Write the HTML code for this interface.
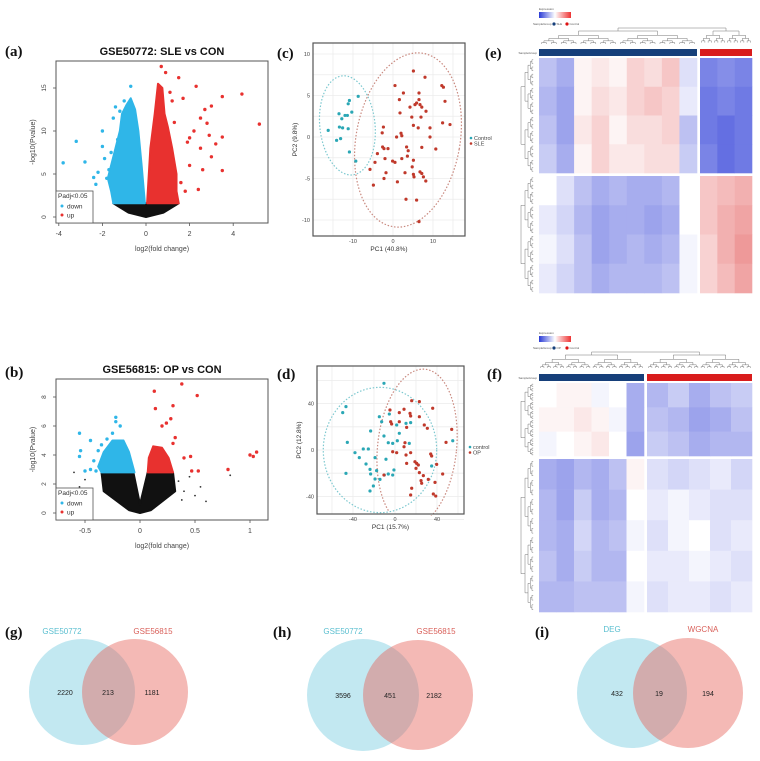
<!DOCTYPE html>
<html><head><meta charset="utf-8">
<style>
html,body{margin:0;padding:0;background:#fff;}
svg{display:block;font-family:"Liberation Sans",sans-serif;}
.pl{font-family:"Liberation Serif",serif;font-weight:bold;font-size:15px;fill:#111;}
.tk{font-size:6.5px;fill:#444;}
</style></head>
<body>
<svg id="fig" width="760" height="761" viewBox="0 0 760 761" xmlns="http://www.w3.org/2000/svg">
<rect x="0" y="0" width="760" height="761" fill="#fff"/>
<text class="pl" x="5" y="56">(a)</text>
<text class="pl" x="5" y="377">(b)</text>
<text class="pl" x="277" y="58">(c)</text>
<text class="pl" x="277" y="379">(d)</text>
<text class="pl" x="485" y="58">(e)</text>
<text class="pl" x="487" y="379">(f)</text>
<text class="pl" x="5" y="637">(g)</text>
<text class="pl" x="273" y="637">(h)</text>
<text class="pl" x="535" y="637">(i)</text>
<g id="root"></g>
</svg>
<script>
// ---------- data: volcano (a) ----------
const aXTicks = [-4, -2, 0, 2, 4];
const aYTicks = [0, 5, 10, 15];
const aBlueCloudX = [-0.05, -0.2, -0.35, -0.5, -0.7, -0.9, -1.1, -1.2, -1.4, -1.6, -1.75, -1.6, -1.5];
const aBlueCloudY = [1.6, 6, 10, 12.5, 13.8, 13, 12, 10, 8, 6, 4.5, 3.0, 1.6];
const aRedCloudX = [0.05, 0.2, 0.4, 0.55, 0.75, 0.85, 1.0, 1.2, 1.4, 1.4, 1.5];
const aRedCloudY = [1.6, 8, 12, 15.5, 15, 12, 10.5, 8, 5, 3, 1.6];
const aBlackX = [-1.5, 1.5, 0.8, 0, -0.8];
const aBlackY = [1.6, 1.6, 0.5, 0, 0.5];
const aDownX = [-3.8, -3.2, -2.8, -2.4, -2.3, -2, -2, -1.9, -1.7, -1.5, -1.6, -1.3, -1.2, -0.7, -1.8, -2.2, -1.0, -1.4];
const aDownY = [6.3, 8.8, 6.4, 4.6, 3.8, 10, 8.2, 6.8, 5.5, 11.5, 7.5, 9, 12.3, 15.2, 4.5, 5.2, 13.5, 12.8];
const aUpX = [0.7, 0.9, 1.5, 2.3, 4.4, 3.5, 5.2, 3.0, 2.7, 2.5, 3.5, 3.5, 2.8, 2.2, 1.9, 2.5, 3.2, 2.0, 2.6, 1.6, 1.8, 2.4, 3.0, 1.2, 1.7, 2.0, 2.9, 1.1, 1.3];
const aUpY = [17.5, 16.8, 16.2, 15.2, 14.3, 14, 10.8, 12.9, 12.5, 11.5, 9.3, 5.4, 10.9, 10, 8.7, 8, 8.5, 6, 5.5, 4, 3, 3.2, 7, 13.5, 13.8, 9.2, 9.5, 14.5, 11];
// ---------- data: volcano (b) ----------
const bXTicks = [-0.5, 0, 0.5, 1.0];
const bYTicks = [0, 2, 4, 6, 8];
const bBlueCloudX = [-0.05, -0.1, -0.15, -0.25, -0.33, -0.38, -0.35];
const bBlueCloudY = [2.8, 4.2, 5.0, 5.0, 4.2, 3.2, 2.8];
const bRedCloudX = [0.07, 0.08, 0.12, 0.2, 0.26, 0.3];
const bRedCloudY = [2.8, 3.8, 4.6, 4.5, 3.8, 2.8];
const bBlackX = [-0.35, -0.06, 0, 0.07, 0.3, 0.32, 0.1, 0, -0.1, -0.33];
const bBlackY = [2.8, 2.8, 0.6, 2.8, 2.8, 1.5, 0.2, 0, 0.2, 1.5];
const bNsX = [-0.6, -0.55, -0.5, 0.4, 0.5, 0.45, 0.55, 0.6, 0.82, 0.35, -0.45, 0.38];
const bNsY = [2.8, 1.8, 2.3, 1.5, 1.2, 2.5, 1.8, 0.8, 2.6, 2.2, 1.5, 0.9];
const bDownX = [-0.55, -0.54, -0.55, -0.5, -0.45, -0.4, -0.45, -0.35, -0.3, -0.25, -0.22, -0.22, -0.18, -0.3, -0.38, -0.42];
const bDownY = [5.5, 4.3, 3.9, 2.9, 3.0, 2.9, 5.0, 4.7, 5.1, 5.5, 6.3, 6.6, 6.0, 4.0, 4.3, 3.6];
const bUpX = [0.38, 0.13, 0.14, 0.3, 0.52, 0.28, 0.32, 0.3, 0.4, 0.46, 0.47, 0.53, 0.8, 1.0, 1.03, 1.06, 0.24, 0.2];
const bUpY = [8.9, 8.4, 7.2, 7.4, 8.1, 6.5, 5.2, 4.8, 3.8, 3.9, 2.9, 2.9, 3.0, 4.0, 3.9, 4.2, 6.2, 6.0];
// ---------- data: PCA (c) ----------
const cXTicks = [-10, 0, 10];
const cYTicks = [-10, -5, 0, 5, 10];
const cCtrlX = [-10.9, -11.2, -10.3, -11.4, -12.0, -12.8, -13.5, -13.4, -12.6, -11.2, -16.2, -14.1, -13.1, -10.9, -8.7, -9.3];
const cCtrlY = [4.4, 4.0, 3.0, 2.6, 2.6, 2.2, 2.8, 1.2, 1.1, 1.0, 0.8, -0.4, -0.2, -1.8, 4.9, -2.9];
const cSleX = [5.1, 8.0, 0.5, 2.6, 12.6, 6.5, 1.6, 6.5, 13.0, 5.5, 5.9, 6.75, 7.2, 1.75, 8.25, 4.7, 5.1, 7.0, 12.4, 14.25, -2.4, 9.25, 6.3, 0.9, 2.0, 2.2, -2.7, -2.6, -2.25, -3.9, -2.0, -1.25, 3.4, 3.8, 7.2, -0.1, 2.2, 3.6, 0.5, 5.1, 4.8, 5.1, 5.25, 6.75, 7.2, 7.6, 3.0, -1.75, -2.25, 1.1, -4.9, -5.75, -4.5, 8.2, 3.25, 5.9, 6.5, 12.2, 10.7, 9.25, 4.25];
const cSleY = [7.95, 7.2, 6.2, 5.3, 6.0, 5.3, 4.5, 4.5, 4.3, 3.9, 4.1, 3.9, 3.6, 2.9, 3.1, 2.4, 1.4, 2.4, 1.7, 1.5, 1.2, 1.1, 1.1, 0.0, 0.45, 0.15, 0.5, -1.2, -1.4, -2.0, -2.6, -1.4, -1.2, -1.65, -1.25, -2.9, -2.6, -2.3, -3.05, -2.8, -3.6, -4.5, -4.8, -4.2, -4.4, -4.8, -4.3, -4.3, -5.0, -5.4, -5.8, -3.9, -3.05, -5.3, -7.5, -7.6, -10.2, 6.2, -1.45, 0.0, 3.6];
const cCtrlEllipse = [-11.4, 1.4, 6.9, 6.0, -6];
const cSleEllipse = [3.75, -0.36, 13.0, 10.6, 10];
// ---------- data: PCA (d) ----------
const dXTicks = [-40, 0, 40];
const dYTicks = [-40, 0, 40];
const dCtrlX = [-10.5, -46.7, -49.8, -14.9, -5.4, -12.7, 1.6, 14.9, 4.1, -23.2, -10.5, -45.4, -6.4, -2.2, -38.1, -30.2, -25.4, -34, -27.6, -19, -23.8, -17.5, -14.3, -19, -23.2, -10.2, -6.4, -1, -2.2, -23.8, -20.6, -46.7, -8.6, 2.2, 13.6, 34.9, 55, 10.5];
const dCtrlY = [57.5, 37.4, 32.2, 28.7, 31, 24.4, 21.6, 23.6, 14.4, 16.4, 12.1, 6.6, 6.3, 5.7, -2.3, 0.9, 0.9, -6.6, -12.1, -6.6, -16.7, -17.8, -25.3, -25, -20.7, -21.6, -20.7, -17.2, -21.6, -35.3, -31, -20.1, -8, 8, 5.7, -13.8, 8, 23];
const dOpX = [15.9, 23.2, -4.8, 8.6, 14.3, 14.9, 4.1, 23.2, 35.9, -4.1, -3.2, 4.1, 27.9, 30.8, 11.1, 54, 48.6, 9.5, 1.6, 8.6, 10.5, 14.9, 34, 34.9, 19, 20.6, 22.2, 20, 39.7, 45.4, 23.2, 27, 24.8, 25.4, 31.7, 38.1, 15.9, 14.9, 36.5, 38.8, -10.5, -2.2, 11.1];
const dOpY = [42.5, 41.7, 34.5, 35.1, 31.6, 29.3, 32.2, 28.7, 36, 24.4, 22.4, 24.4, 21.6, 18.7, 19.5, 17.8, 6.6, 6.3, -2.3, 2.8, -4.3, -2.3, -3.4, -5.2, -10.1, -11.5, -12.9, -15.8, -12.4, -20.7, -19.5, -22.1, -26.4, -28.7, -25.3, -27.9, -33, -38.8, -37.9, -39.7, -21.6, -1.5, -11.5];
const dCtrlEllipse = [-14.3, 0, 54, 54, 0];
const dOpEllipse = [21, 2, 37.6, 68, 6];
// ---------- data: heatmaps ----------
const eValues = [
 [-0.6,-0.8,0.1,0.2,0.1,0.4,0.3,0.5,-0.3,-1.2,-1.1,-1.2],
 [-0.7,-0.9,0.1,0.3,0.2,0.4,0.5,0.4,-0.2,-1.3,-1.2,-1.3],
 [-0.6,-0.9,0.2,0.4,0.1,0.3,0.3,0.4,-0.6,-1.3,-1.4,-1.3],
 [-0.5,-0.8,0.1,0.4,0.2,0.2,0.3,0.3,-0.5,-1.2,-1.4,-1.3],
 [0.0,-0.3,-0.6,-0.8,-0.7,-0.8,-0.8,-0.7,0.0,0.5,0.6,0.7],
 [-0.2,-0.4,-0.7,-0.9,-0.8,-0.8,-0.9,-0.8,0.0,0.5,0.7,0.8],
 [-0.1,-0.3,-0.6,-0.9,-0.8,-0.7,-0.8,-0.7,-0.1,0.4,0.7,0.9],
 [-0.2,-0.4,-0.6,-0.8,-0.7,-0.7,-0.7,-0.6,-0.1,0.4,0.6,0.8]];
const fValues = [
 [0.0,0.1,0.1,-0.1,0.0,-0.8,-0.7,-0.5,-0.8,-0.6,-0.5],
 [0.1,0.1,0.2,0.1,-0.1,-0.8,-0.6,-0.7,-0.9,-0.8,-0.6],
 [-0.1,0.0,0.1,0.2,0.0,-0.9,-0.5,-0.6,-0.8,-0.7,-0.7],
 [-0.8,-0.9,-0.7,-0.8,-0.6,0.1,-0.3,-0.4,-0.3,-0.2,-0.4],
 [-0.7,-0.9,-0.5,-0.8,-0.7,0.0,-0.2,-0.1,-0.2,-0.3,-0.3],
 [-0.7,-0.8,-0.4,-0.7,-0.6,-0.1,-0.3,-0.1,0.0,-0.3,-0.2],
 [-0.6,-0.8,-0.5,-0.7,-0.7,0.0,-0.2,-0.2,-0.1,-0.2,-0.3],
 [-0.7,-0.7,-0.6,-0.6,-0.6,-0.1,-0.3,-0.2,-0.2,-0.3,-0.2]];
// ---------- data: venn ----------
const gSets = ["GSE50772", "GSE56815"];
const gCounts = [2220, 213, 1181];
const hSets = ["GSE50772", "GSE56815"];
const hCounts = [3596, 451, 2182];
const iSets = ["DEG", "WGCNA"];
const iCounts = [432, 19, 194];

const NS = "http://www.w3.org/2000/svg";
const root = document.getElementById('root');
function mk(tag, attrs, parent) {
  const e = document.createElementNS(NS, tag);
  for (const k in attrs) e.setAttribute(k, attrs[k]);
  (parent || root).appendChild(e);
  return e;
}
function txt(s, attrs, parent) { const t = mk('text', attrs, parent); t.textContent = s; return t; }
const BLUE = '#2fb6e8', RED = '#e8312f';

// ---------------- volcano panels ----------------
function volcano(cfg) {
  const g = mk('g', {});
  
  
  const X = cfg.x, Y = cfg.y;
  const t = txt(cfg.title, {x: (cfg.box[0] + cfg.box[2]) / 2, y: cfg.box[1] - 6, 'text-anchor': 'middle', 'font-size': 11, 'font-weight': 'bold', fill: '#111'}, g);
  
  
  const poly = (xs, ys, col, nm) => {
    const p = mk('polygon', {points: xs.map((v, i) => X(v) + ',' + Y(ys[i])).join(' '), fill: col, stroke: col, 'stroke-width': 2, 'stroke-linejoin': 'round'}, g);
    
    
  };
  poly(cfg.blackX, cfg.blackY, '#111', 'nonsignificant-cloud');
  poly(cfg.blueX, cfg.blueY, BLUE, 'down-cloud');
  poly(cfg.redX, cfg.redY, RED, 'up-cloud');
  (cfg.nsX || []).forEach((v, i) => {
    const c = mk('circle', {cx: X(v), cy: Y(cfg.nsY[i]), r: 0.9, fill: '#333'}, g);
    
    
  });
  cfg.downX.forEach((v, i) => {
    const c = mk('circle', {cx: X(v), cy: Y(cfg.downY[i]), r: 1.7, fill: BLUE}, g);
    
    
  });
  cfg.upX.forEach((v, i) => {
    const c = mk('circle', {cx: X(v), cy: Y(cfg.upY[i]), r: 1.7, fill: RED}, g);
    
    
  });
  const [x0, y0, x1, y1] = cfg.box;
  const b = mk('rect', {x: x0, y: y0, width: x1 - x0, height: y1 - y0, fill: 'none', stroke: '#555', 'stroke-width': 1}, g);
  
  
  cfg.xTicks.forEach(v => {
    const l = mk('line', {x1: X(v), x2: X(v), y1: y1, y2: y1 + 3, stroke: '#555', 'stroke-width': 0.8}, g);
    
    
    const tt = txt(String(v), {x: X(v), y: y1 + 13, 'text-anchor': 'middle', 'font-size': 7, fill: '#444'}, g);
    
    
  });
  cfg.yTicks.forEach(v => {
    const l = mk('line', {x1: x0 - 3, x2: x0, y1: Y(v), y2: Y(v), stroke: '#555', 'stroke-width': 0.8}, g);
    
    
    const tt = txt(String(v), {x: x0 - 10, y: Y(v), 'text-anchor': 'middle', 'font-size': 6.5, fill: '#444', transform: `rotate(-90 ${x0 - 10} ${Y(v)})`}, g);
    
    
  });
  const xl = txt('log2(fold change)', {x: (x0 + x1) / 2, y: y1 + 28, 'text-anchor': 'middle', 'font-size': 7, fill: '#444'}, g);
  
  
  const yc = (y0 + y1) / 2;
  const yl = txt('-log10(Pvalue)', {x: x0 - 21, y: yc, 'text-anchor': 'middle', 'font-size': 7, fill: '#444', transform: `rotate(-90 ${x0 - 21} ${yc})`}, g);
  
  
  const lg = mk('g', {}, g);
  
  
  const ly = cfg.legendY;
  mk('rect', {x: x0, y: ly, width: 37, height: y1 - ly, fill: '#fff', stroke: '#555', 'stroke-width': 0.8}, lg);
  txt('Padj<0.05', {x: x0 + 2, y: ly + 7, 'font-size': 6.5, fill: '#333'}, lg);
  mk('circle', {cx: x0 + 6, cy: ly + 15, r: 1.5, fill: BLUE}, lg);
  txt('down', {x: x0 + 11, y: ly + 17.5, 'font-size': 6.5, fill: '#333'}, lg);
  mk('circle', {cx: x0 + 6, cy: ly + 24, r: 1.5, fill: RED}, lg);
  txt('up', {x: x0 + 11, y: ly + 26.5, 'font-size': 6.5, fill: '#333'}, lg);
}
volcano({name: 'volcano-a', title: 'GSE50772: SLE vs CON', box: [56, 61, 268, 223], legendY: 191,
  x: v => 146 + v * 21.8, y: v => 217 - v * 8.6, xTicks: aXTicks, yTicks: aYTicks,
  blueX: aBlueCloudX, blueY: aBlueCloudY, redX: aRedCloudX, redY: aRedCloudY, blackX: aBlackX, blackY: aBlackY,
  downX: aDownX, downY: aDownY, upX: aUpX, upY: aUpY});
volcano({name: 'volcano-b', title: 'GSE56815: OP vs CON', box: [56, 379, 268, 520], legendY: 488,
  x: v => 140 + v * 110, y: v => 513 - v * 14.5, xTicks: bXTicks, yTicks: bYTicks,
  blueX: bBlueCloudX, blueY: bBlueCloudY, redX: bRedCloudX, redY: bRedCloudY, blackX: bBlackX, blackY: bBlackY,
  nsX: bNsX, nsY: bNsY, downX: bDownX, downY: bDownY, upX: bUpX, upY: bUpY});

// ---------------- PCA panels ----------------
const TEAL = '#2aa7b5', BRICK = '#c0392b';
function pca(cfg) {
  const g = mk('g', {});
  
  
  const X = cfg.x, Y = cfg.y, [x0, y0, x1, y1] = cfg.box;
  const cid = cfg.name + '-clip';
  const cp = mk('clipPath', {id: cid}, g);
  mk('rect', {x: x0, y: y0, width: x1 - x0, height: y1 - y0}, cp);
  const bg = mk('rect', {x: x0, y: y0, width: x1 - x0, height: y1 - y0, fill: '#fff'}, g);
  
  
  cfg.xGrid.forEach(v => {
    const l = mk('line', {x1: X(v), x2: X(v), y1: y0, y2: y1, stroke: '#ececec', 'stroke-width': 0.8}, g);
    
    
  });
  cfg.yGrid.forEach(v => {
    const l = mk('line', {x1: x0, x2: x1, y1: Y(v), y2: Y(v), stroke: '#ececec', 'stroke-width': 0.8}, g);
    
    
  });
  const ell = (e, col, nm) => {
    const cx = X(e[0]), cy = Y(e[1]);
    const rx = Math.abs(X(e[0] + e[2]) - cx), ry = Math.abs(Y(e[1] + e[3]) - cy);
    const el = mk('ellipse', {cx: cx, cy: cy, rx: rx, ry: ry, fill: 'none', stroke: col, 'stroke-width': 1.2, 'stroke-dasharray': '1.5 1.8', transform: `rotate(${e[4]} ${cx} ${cy})`, 'clip-path': `url(#${cid})`}, g);
    
    
  };
  ell(cfg.ctrlE, '#7cc8cf', 'control-ellipse');
  ell(cfg.caseE, '#c9897f', 'case-ellipse');
  cfg.ctrlX.forEach((v, i) => {
    const c = mk('circle', {cx: X(v), cy: Y(cfg.ctrlY[i]), r: 1.6, fill: TEAL}, g);
    
    
  });
  cfg.caseX.forEach((v, i) => {
    const c = mk('circle', {cx: X(v), cy: Y(cfg.caseY[i]), r: 1.6, fill: BRICK}, g);
    
    
  });
  const fr = mk('rect', {x: x0, y: y0, width: x1 - x0, height: y1 - y0, fill: 'none', stroke: '#555', 'stroke-width': 1.2}, g);
  
  
  cfg.xTicks.forEach(v => {
    const t = txt(String(v), {x: X(v), y: y1 + 7, 'text-anchor': 'middle', 'font-size': 5.5, fill: '#444'}, g);
    
    
  });
  cfg.yTicks.forEach(v => {
    const t = txt(String(v), {x: x0 - 3, y: Y(v) + 2, 'text-anchor': 'end', 'font-size': 5.5, fill: '#444'}, g);
    
    
  });
  const xl = txt(cfg.xlab, {x: (x0 + x1) / 2, y: y1 + 15, 'text-anchor': 'middle', 'font-size': 6.5, fill: '#333'}, g);
  
  
  const yc = (y0 + y1) / 2;
  const yl = txt(cfg.ylab, {x: x0 - 16, y: yc, 'text-anchor': 'middle', 'font-size': 6.5, fill: '#333', transform: `rotate(-90 ${x0 - 16} ${yc})`}, g);
  
  
  const lg = mk('g', {}, g);
  
  
  mk('circle', {cx: x1 + 6, cy: cfg.legY, r: 1.3, fill: TEAL}, lg);
  txt(cfg.leg[0], {x: x1 + 9, y: cfg.legY + 2, 'font-size': 5.5, fill: '#444'}, lg);
  mk('circle', {cx: x1 + 6, cy: cfg.legY + 5.5, r: 1.3, fill: BRICK}, lg);
  txt(cfg.leg[1], {x: x1 + 9, y: cfg.legY + 7.5, 'font-size': 5.5, fill: '#444'}, lg);
}
pca({name: 'pca-c', box: [313, 43, 465, 236], x: v => 393 + v * 4.0, y: v => 137 - v * 8.3,
  xTicks: cXTicks, yTicks: cYTicks, xGrid: [-15, -10, -5, 0, 5, 10, 15], yGrid: [-10, -7.5, -5, -2.5, 0, 2.5, 5, 7.5, 10],
  ctrlX: cCtrlX, ctrlY: cCtrlY, caseX: cSleX, caseY: cSleY, ctrlE: cCtrlEllipse, caseE: cSleEllipse,
  xlab: 'PC1 (40.8%)', ylab: 'PC2 (9.8%)', leg: ['Control', 'SLE'], legY: 138});
pca({name: 'pca-d', box: [317, 366, 464, 514], x: v => 395 + v * 1.05, y: v => 450 - v * 1.16,
  xTicks: dXTicks, yTicks: dYTicks, xGrid: [-60, -40, -20, 0, 20, 40, 60], yGrid: [-60, -40, -20, 0, 20, 40, 60],
  ctrlX: dCtrlX, ctrlY: dCtrlY, caseX: dOpX, caseY: dOpY, ctrlE: dCtrlEllipse, caseE: dOpEllipse,
  xlab: 'PC1 (15.7%)', ylab: 'PC2 (12.8%)', leg: ['control', 'OP'], legY: 447});

// ---------------- heatmaps ----------------
function heatColor(v) {
  const t = Math.min(1, Math.abs(v) / 1.9);
  const c = v < 0 ? [45, 60, 215] : [220, 40, 40];
  return `rgb(${Math.round(255 + (c[0] - 255) * t)},${Math.round(255 + (c[1] - 255) * t)},${Math.round(255 + (c[2] - 255) * t)})`;
}
function tree(g, a, b, yTop, yBot, depth, horiz) {
  if (depth === 0 || b - a < 4) return;
  const m = (a + b) / 2, h = (yBot - yTop);
  const yy = yTop + h * 0.25;
  const ca = (a + m) / 2, cb = (m + b) / 2;
  const L = (x1, y1, x2, y2) => horiz ? mk('line', {x1: y1, y1: x1, x2: y2, y2: x2, stroke: '#777', 'stroke-width': 0.5}, g) : mk('line', {x1: x1, y1: y1, x2: x2, y2: y2, stroke: '#777', 'stroke-width': 0.5}, g);
  L(ca, yTop, cb, yTop); L(ca, yTop, ca, yy); L(cb, yTop, cb, yy);
  tree(g, a, m, yy, yBot, depth - 1, horiz);
  tree(g, m, b, yy, yBot, depth - 1, horiz);
}
function heatmap(cfg) {
  const g = mk('g', {});
  
  
  const vals = cfg.values;
  const nTop = cfg.topRows, nRows = vals.length, nA = cfg.colsA, nCols = vals[0].length;
  const [x0, xs, x1] = cfg.xs, [y0, ys, y1] = cfg.ys, gap = 3;
  const lg = mk('g', {}, g);
  
  
  const grad = mk('linearGradient', {id: cfg.name + '-grad'}, lg);
  mk('stop', {offset: '0', 'stop-color': '#2a3bd6'}, grad);
  mk('stop', {offset: '0.5', 'stop-color': '#fff'}, grad);
  mk('stop', {offset: '1', 'stop-color': '#e33'}, grad);
  txt('Expression', {x: x0, y: cfg.legY - 2, 'font-size': 3, fill: '#555'}, lg);
  mk('rect', {x: x0, y: cfg.legY, width: 32, height: 6, fill: `url(#${cfg.name}-grad)`}, lg);
  txt('SampleGroup', {x: x0 - 6, y: cfg.legY + 13, 'font-size': 3, fill: '#555'}, lg);
  mk('circle', {cx: x0 + 15, cy: cfg.legY + 12, r: 1.6, fill: '#163f7a'}, lg);
  txt(cfg.groups[0], {x: x0 + 17.5, y: cfg.legY + 13, 'font-size': 3, fill: '#555'}, lg);
  mk('circle', {cx: x0 + 28, cy: cfg.legY + 12, r: 1.6, fill: '#d11'}, lg);
  txt(cfg.groups[1], {x: x0 + 30.5, y: cfg.legY + 13, 'font-size': 3, fill: '#555'}, lg);
  const dg = mk('g', {}, g);
  
  
  mk('line', {x1: (x0 + xs) / 2, y1: cfg.dendY[0], x2: (xs + gap + x1) / 2, y2: cfg.dendY[0], stroke: '#777', 'stroke-width': 0.5}, dg);
  mk('line', {x1: (x0 + xs) / 2, y1: cfg.dendY[0], x2: (x0 + xs) / 2, y2: cfg.dendY[0] + 3, stroke: '#777', 'stroke-width': 0.5}, dg);
  mk('line', {x1: (xs + gap + x1) / 2, y1: cfg.dendY[0], x2: (xs + gap + x1) / 2, y2: cfg.dendY[0] + 3, stroke: '#777', 'stroke-width': 0.5}, dg);
  tree(dg, x0, xs, cfg.dendY[0] + 3, cfg.dendY[1], 5, false);
  tree(dg, xs + gap, x1, cfg.dendY[0] + 3, cfg.dendY[1], 5, false);
  const rg = mk('g', {}, g);
  
  
  tree(rg, y0, ys, 521, x0 - 2, 5, true);
  tree(rg, ys + gap, y1, 521, x0 - 2, 5, true);
  const gy = cfg.groupY;
  const ba = mk('rect', {x: x0, y: gy, width: xs - x0, height: 7, fill: '#163f7a'}, g);
  
  
  const bb = mk('rect', {x: xs + gap, y: gy, width: x1 - xs - gap, height: 7, fill: '#d91c1c'}, g);
  
  
  const gl = txt('SampleGroup', {x: x0 - 2, y: gy + 5, 'text-anchor': 'end', 'font-size': 3, fill: '#555'}, g);
  
  
  for (let r = 0; r < nRows; r++) {
    const top = r < nTop;
    const ry0 = top ? y0 : ys + gap, ry1 = top ? ys : y1, nr = top ? nTop : nRows - nTop, ri = top ? r : r - nTop;
    const cy0 = ry0 + (ry1 - ry0) * ri / nr, ch = (ry1 - ry0) / nr;
    for (let c = 0; c < nCols; c++) {
      const left = c < nA;
      const cx0a = left ? x0 : xs + gap, cx1a = left ? xs : x1, nc = left ? nA : nCols - nA, ci = left ? c : c - nA;
      const cw = (cx1a - cx0a) / nc;
      const cell = mk('rect', {x: cx0a + cw * ci, y: cy0, width: cw + 0.3, height: ch + 0.3, fill: heatColor(vals[r][c])}, g);
      
      
    }
  }
}
heatmap({name: 'heatmap-e', values: eValues, topRows: 4, colsA: 9, xs: [539, 697, 752], ys: [58, 173, 293],
  legY: 12, dendY: [28, 48], groupY: 49, groups: ['SLE', 'Control']});
heatmap({name: 'heatmap-f', values: fValues, topRows: 3, colsA: 6, xs: [539, 644, 752], ys: [383, 456, 612],
  legY: 336, dendY: [352, 372], groupY: 374, groups: ['OP', 'Control']});

// ---------------- venn ----------------
function venn(cfg) {
  const g = mk('g', {});
  
  
  const l = mk('circle', {cx: cfg.c1[0], cy: cfg.cy, r: cfg.c1[1], fill: 'rgba(110,200,222,0.42)'}, g);
  
  
  const r = mk('circle', {cx: cfg.c2[0], cy: cfg.cy, r: cfg.c2[1], fill: 'rgba(230,100,92,0.45)'}, g);
  
  
  const la = txt(cfg.sets[0], {x: cfg.labX[0], y: cfg.labY, 'text-anchor': 'middle', 'font-size': 8, fill: '#5bbfd0'}, g);
  
  
  const lb = txt(cfg.sets[1], {x: cfg.labX[1], y: cfg.labY, 'text-anchor': 'middle', 'font-size': 8, fill: '#d9605a'}, g);
  
  
  cfg.counts.forEach((n, i) => {
    const t = txt(String(n), {x: cfg.numX[i], y: cfg.cy + 3, 'text-anchor': 'middle', 'font-size': 7, fill: '#222'}, g);
    
    
  });
}
venn({name: 'venn-g', sets: gSets, counts: gCounts, c1: [82, 53], c2: [135, 53], cy: 692, labX: [62, 153], labY: 634, numX: [65, 108, 152]});
venn({name: 'venn-h', sets: hSets, counts: hCounts, c1: [363, 56], c2: [418, 55], cy: 695, labX: [343, 436], labY: 634, numX: [343, 390, 434]});
venn({name: 'venn-i', sets: iSets, counts: iCounts, c1: [632, 55], c2: [688, 55], cy: 693, labX: [612, 703], labY: 632, numX: [617, 659, 708]});
</script>
</body></html>
